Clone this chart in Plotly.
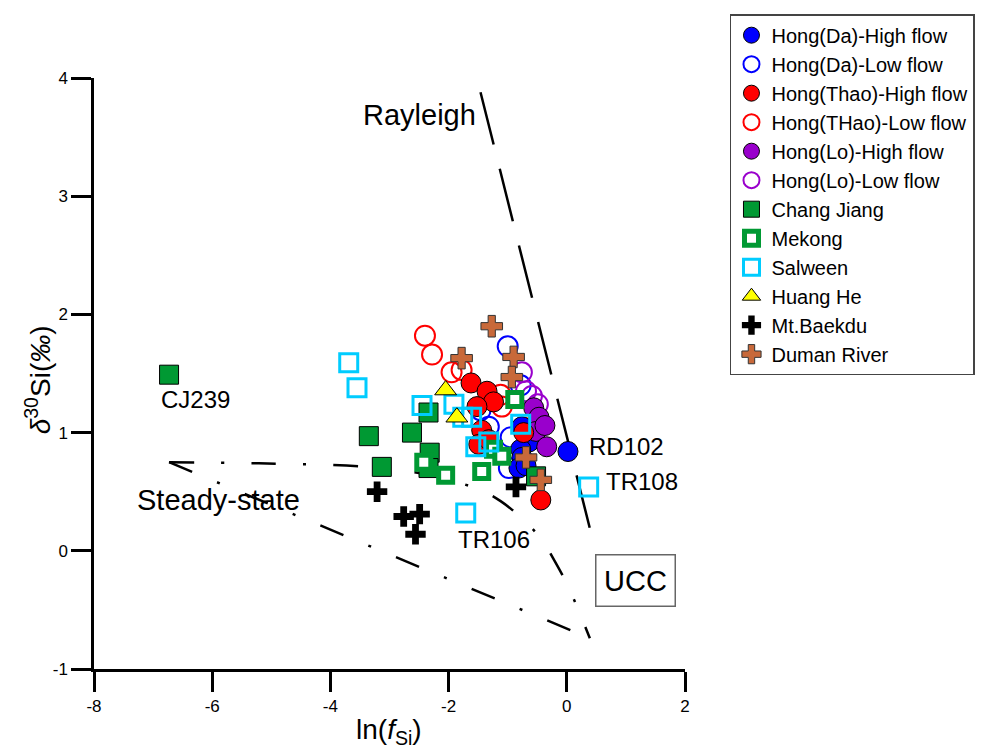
import plotly.graph_objects as go

FONT = "Arial, Liberation Sans, sans-serif"

# ---- sample data: x = ln(f_Si), y = delta30Si (permil) ----
da_high_x = [0.02, -0.76, -0.64, -0.78, -0.76, -0.81, -0.69]
da_high_y = [0.84, 1.05, 0.92, 0.86, 0.79, 0.70, 0.72]

da_low_x = [-1.00, -0.78, -1.46, -1.32, -0.95, -0.98]
da_low_y = [1.73, 1.40, 1.19, 1.05, 0.96, 0.70]

thao_high_x = [-1.62, -1.35, -1.24, -1.52, -1.44, -1.49, -1.32, -0.73, -0.44]
thao_high_y = [1.42, 1.35, 1.26, 1.22, 1.02, 0.90, 0.94, 1.00, 0.43]

thao_low_x = [-2.40, -2.28, -1.95, -1.78, -1.12, -1.10, -0.73]
thao_low_y = [1.82, 1.66, 1.51, 1.53, 1.32, 1.22, 1.04]

lo_high_x = [-0.56, -0.47, -0.52, -0.37, -0.34]
lo_high_y = [1.21, 1.13, 1.01, 1.06, 0.88]

lo_low_x = [-0.76, -0.69, -0.59, -0.49]
lo_low_y = [1.51, 1.35, 1.31, 1.24]

chang_x = [-6.73, -3.35, -3.13, -2.62, -2.34, -2.32, -2.34, -0.52]
chang_y = [1.49, 0.97, 0.71, 1.00, 1.17, 0.83, 0.70, 0.63]

mekong_x = [-2.42, -2.05, -1.44, -1.24, -1.10, -0.88]
mekong_y = [0.75, 0.64, 0.67, 0.86, 0.80, 1.28]

salween_x = [-3.69, -3.55, -2.45, -1.91, -1.76, -1.61, -1.54, -1.32, -0.78, -1.71, 0.37]
salween_y = [1.59, 1.38, 1.23, 1.24, 1.13, 1.13, 0.88, 0.92, 1.07, 0.32, 0.54]

huang_x = [-2.05, -1.86]
huang_y = [1.36, 1.13]

baekdu_x = [-3.21, -2.76, -2.49, -2.56, -0.86]
baekdu_y = [0.50, 0.29, 0.31, 0.14, 0.54]

duman_x = [-1.27, -1.78, -0.90, -0.93, -0.69, -0.44]
duman_y = [1.90, 1.63, 1.64, 1.47, 0.79, 0.60]

# ---- model curves ----
rayleigh_x = [-1.46, 0.39]
rayleigh_y = [3.88, 0.19]

steady_x = [-6.73, -5.21, -3.35, -2.42, -1.49, -1.12, -0.73, -0.42, -0.19, 0.03, 0.39]
steady_y = [0.75, 0.74, 0.71, 0.65, 0.52, 0.42, 0.26, 0.09, -0.10, -0.31, -0.74]

mixing_x = [-6.73, -3.40, 0.39]
mixing_y = [0.75, 0.05, -0.74]

# ---- axis ticks ----
x_ticks = [-8, -6, -4, -2, 0, 2]
y_ticks = [-1, 0, 1, 2, 3, 4]

fig = go.Figure()

# reference lines
fig.add_trace(go.Scatter(x=rayleigh_x, y=rayleigh_y, mode="lines", showlegend=False,
                         hoverinfo="skip",
                         line=dict(color="black", width=2.5, dash="54px,25px")))
fig.add_trace(go.Scatter(x=steady_x, y=steady_y, mode="lines", showlegend=False,
                         hoverinfo="skip", line_shape="spline",
                         line=dict(color="black", width=2.5, dash="25px,27px,3px,27px")))
fig.add_trace(go.Scatter(x=mixing_x, y=mixing_y, mode="lines", showlegend=False,
                         hoverinfo="skip",
                         line=dict(color="black", width=2.5, dash="25px,27px,3px,27px")))

BLUE, RED, PURPLE = "#0000FF", "#FF0000", "#9900CC"
GREEN, CYAN, YELLOW, BROWN = "#009933", "#00CCFF", "#FFFF00", "#C8693A"


def filled_circle(x, y, name, color, rank):
    fig.add_trace(go.Scatter(x=x, y=y, mode="markers", name=name, legendrank=rank,
                             marker=dict(symbol="circle", size=20, color=color,
                                         line=dict(color="black", width=1))))


def open_circle(x, y, name, color, rank):
    fig.add_trace(go.Scatter(x=x, y=y, mode="markers", name=name, legendrank=rank,
                             marker=dict(symbol="circle-open", size=20, color=color,
                                         line=dict(color=color, width=2))))


# drawing order (bottom to top)
open_circle(da_low_x, da_low_y, "Hong(Da)-Low flow", BLUE, 2)
open_circle(thao_low_x, thao_low_y, "Hong(THao)-Low flow", RED, 4)
open_circle(lo_low_x, lo_low_y, "Hong(Lo)-Low flow", PURPLE, 6)
filled_circle(da_high_x, da_high_y, "Hong(Da)-High flow", BLUE, 1)
filled_circle(lo_high_x, lo_high_y, "Hong(Lo)-High flow", PURPLE, 5)
filled_circle(thao_high_x, thao_high_y, "Hong(Thao)-High flow", RED, 3)

fig.add_trace(go.Scatter(x=chang_x, y=chang_y, mode="markers", name="Chang Jiang", legendrank=7,
                         marker=dict(symbol="square", size=19, color=GREEN,
                                     line=dict(color="black", width=1))))
fig.add_trace(go.Scatter(x=mekong_x, y=mekong_y, mode="markers", name="Mekong", legendrank=8,
                         marker=dict(symbol="square", size=14, color="white",
                                     line=dict(color=GREEN, width=5))))
fig.add_trace(go.Scatter(x=salween_x, y=salween_y, mode="markers", name="Salween", legendrank=9,
                         marker=dict(symbol="square-open", size=18, color=CYAN,
                                     line=dict(color=CYAN, width=3))))
fig.add_trace(go.Scatter(x=huang_x, y=huang_y, mode="markers", name="Huang He", legendrank=10,
                         marker=dict(symbol="triangle-up", size=19, color=YELLOW,
                                     line=dict(color="black", width=1))))
fig.add_trace(go.Scatter(x=baekdu_x, y=baekdu_y, mode="markers", name="Mt.Baekdu", legendrank=11,
                         marker=dict(symbol="cross", size=17, color="black",
                                     line=dict(color="black", width=0))))
fig.add_trace(go.Scatter(x=duman_x, y=duman_y, mode="markers", name="Duman River", legendrank=12,
                         marker=dict(symbol="cross", size=18, color=BROWN,
                                     line=dict(color="#333333", width=1))))

# sample labels anchored to their points
labels = [
    ("CJ239", chang_x[0], chang_y[0], "center", 26, -25),
    ("RD102", da_high_x[0], da_high_y[0], "left", 19, 5),
    ("TR108", salween_x[10], salween_y[10], "left", 15, 5),
    ("TR106", salween_x[9], salween_y[9], "left", -10, -27),
]
for text, lx, ly, anchor, dx, dy in labels:
    fig.add_annotation(x=lx, y=ly, text=text, showarrow=False, xanchor=anchor,
                       xshift=dx, yshift=dy, font=dict(size=24, family=FONT, color="black"))

fig.add_annotation(x=-2.49, y=3.69, text="Rayleigh", showarrow=False,
                   font=dict(size=29, family=FONT, color="black"))
fig.add_annotation(x=-5.89, y=0.43, text="Steady-state", showarrow=False,
                   font=dict(size=29, family=FONT, color="black"))
fig.add_annotation(x=1.17, y=-0.25, text="UCC", showarrow=False,
                   width=78, height=50, borderpad=0, bordercolor="#666666", borderwidth=1.5,
                   font=dict(size=29, family=FONT, color="black"))

# axis titles
fig.add_annotation(xref="paper", yref="paper", x=0.499, y=-0.138, text="ln(<i>f</i><sub>Si</sub>)",
                   showarrow=False, font=dict(size=28, family=FONT, color="black"))
fig.add_annotation(xref="paper", yref="paper", x=-0.128, y=0.489, textangle=-90,
                   text="<i>δ</i><sup>30</sup>Si(<i>‰</i>)",
                   showarrow=False, font=dict(size=28, family=FONT, color="black"))

axis_common = dict(showgrid=False, zeroline=False, showline=True, linecolor="black",
                   linewidth=2.5, ticks="outside", ticklen=20, tickwidth=2.5,
                   tickcolor="black", tickfont=dict(size=17, family=FONT, color="black"))

fig.update_xaxes(range=[-8, 2], tickvals=x_ticks, ticktext=[str(v) for v in x_ticks],
                 **axis_common)
fig.update_yaxes(range=[-1, 4], tickvals=y_ticks, ticktext=[str(v) for v in y_ticks],
                 ticklabelstandoff=0, **axis_common)

fig.update_layout(
    width=1008, height=756,
    margin=dict(l=94, r=323, t=78, b=87),
    plot_bgcolor="white", paper_bgcolor="white",
    font=dict(family=FONT, color="black"),
    legend=dict(x=1.0761, y=1.108, xanchor="left", yanchor="top",
                bordercolor="#444444", borderwidth=1.5, bgcolor="white",
                font=dict(size=20, family=FONT, color="black"), tracegroupgap=0),
)

fig.write_html("out.html")
